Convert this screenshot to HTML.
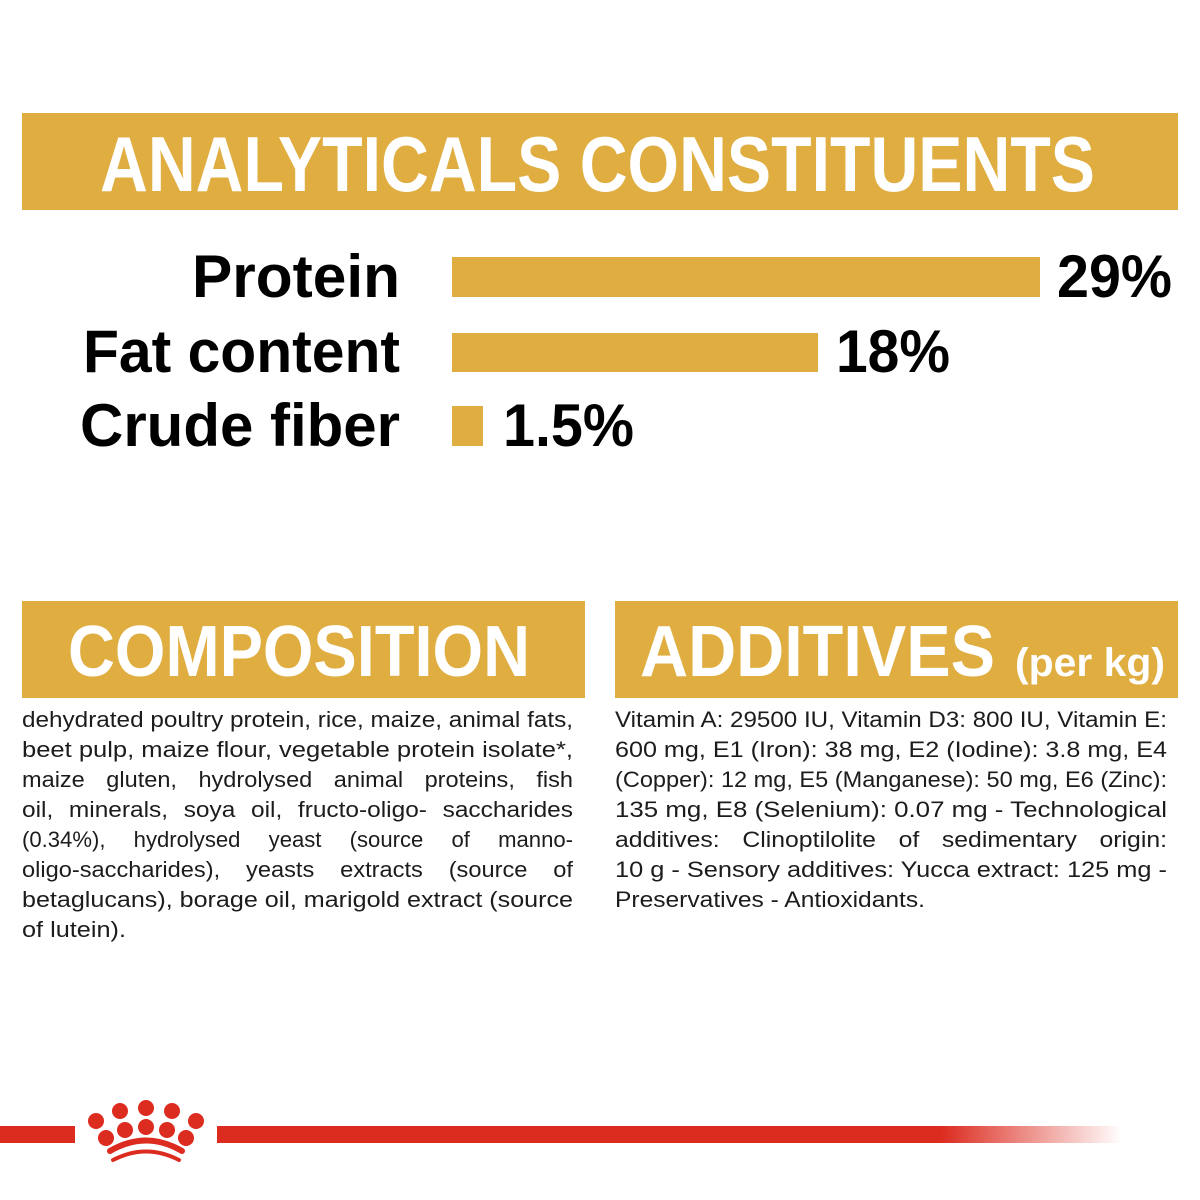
<!DOCTYPE html>
<html><head><meta charset="utf-8"><style>
html,body{margin:0;padding:0;background:#fff;}
svg{display:block;}
.b{font-family:"Liberation Sans",sans-serif;font-weight:bold;}
.t{font-family:"Liberation Sans",sans-serif;font-size:22px;fill:#1c1c1c;}
</style></head><body>
<svg width="1200" height="1200" viewBox="0 0 1200 1200" xmlns="http://www.w3.org/2000/svg">
<defs>
<linearGradient id="g" x1="0" x2="1" y1="0" y2="0">
<stop offset="0" stop-color="#dc2b1f"/><stop offset="0.8" stop-color="#dc2b1f"/><stop offset="1" stop-color="#dc2b1f" stop-opacity="0"/>
</linearGradient>
</defs>
<rect x="22" y="113" width="1156" height="97" fill="#e0ad41"/>
<text class="b" x="100" y="191" font-size="78" fill="#fff" textLength="995" lengthAdjust="spacingAndGlyphs">ANALYTICALS CONSTITUENTS</text>

<g class="b" font-size="60" fill="#000">
<text x="400" y="297" text-anchor="end" textLength="208" lengthAdjust="spacingAndGlyphs">Protein</text>
<text x="400" y="372" text-anchor="end" textLength="317" lengthAdjust="spacingAndGlyphs">Fat content</text>
<text x="400" y="446" text-anchor="end" textLength="320" lengthAdjust="spacingAndGlyphs">Crude fiber</text>
<text x="1057" y="297" textLength="115" lengthAdjust="spacingAndGlyphs">29%</text>
<text x="836" y="372" textLength="114" lengthAdjust="spacingAndGlyphs">18%</text>
<text x="503" y="446" textLength="131" lengthAdjust="spacingAndGlyphs">1.5%</text>
</g>
<rect x="452" y="257" width="588" height="40" fill="#e0ad41"/>
<rect x="452" y="333" width="366" height="39" fill="#e0ad41"/>
<rect x="452" y="406" width="31" height="40" fill="#e0ad41"/>

<rect x="22" y="601" width="563" height="97" fill="#e0ad41"/>
<text class="b" x="68" y="676" font-size="72" fill="#fff" textLength="462" lengthAdjust="spacingAndGlyphs">COMPOSITION</text>
<rect x="615" y="601" width="563" height="97" fill="#e0ad41"/>
<text class="b" x="640" y="676" font-size="72" fill="#fff" textLength="355" lengthAdjust="spacingAndGlyphs">ADDITIVES</text>
<text class="b" x="1015" y="676" font-size="40" fill="#fff" textLength="150" lengthAdjust="spacingAndGlyphs">(per kg)</text>

<g class="t">
<text x="22" y="727" textLength="551" lengthAdjust="spacingAndGlyphs">dehydrated poultry protein, rice, maize, animal fats,</text>
<text x="22" y="757" textLength="551" lengthAdjust="spacingAndGlyphs">beet pulp, maize flour, vegetable protein isolate*,</text>
<text x="22" y="787" textLength="551" lengthAdjust="spacingAndGlyphs" word-spacing="14">maize gluten, hydrolysed animal proteins, fish</text>
<text x="22" y="817" textLength="551" lengthAdjust="spacingAndGlyphs" word-spacing="8">oil, minerals, soya oil, fructo-oligo- saccharides</text>
<text x="22" y="847" textLength="551" lengthAdjust="spacingAndGlyphs" word-spacing="22">(0.34%), hydrolysed yeast (source of manno-</text>
<text x="22" y="877" textLength="551" lengthAdjust="spacingAndGlyphs" word-spacing="18">oligo-saccharides), yeasts extracts (source of</text>
<text x="22" y="907" textLength="551" lengthAdjust="spacingAndGlyphs">betaglucans), borage oil, marigold extract (source</text>
<text x="22" y="937" textLength="104" lengthAdjust="spacingAndGlyphs">of lutein).</text>

<text x="615" y="727" textLength="552" lengthAdjust="spacingAndGlyphs">Vitamin A: 29500 IU, Vitamin D3: 800 IU, Vitamin E:</text>
<text x="615" y="757" textLength="552" lengthAdjust="spacingAndGlyphs">600 mg, E1 (Iron): 38 mg, E2 (Iodine): 3.8 mg, E4</text>
<text x="615" y="787" textLength="552" lengthAdjust="spacingAndGlyphs">(Copper): 12 mg, E5 (Manganese): 50 mg, E6 (Zinc):</text>
<text x="615" y="817" textLength="552" lengthAdjust="spacingAndGlyphs">135 mg, E8 (Selenium): 0.07 mg - Technological</text>
<text x="615" y="847" textLength="552" lengthAdjust="spacingAndGlyphs" word-spacing="14">additives: Clinoptilolite of sedimentary origin:</text>
<text x="615" y="877" textLength="552" lengthAdjust="spacingAndGlyphs">10 g - Sensory additives: Yucca extract: 125 mg -</text>
<text x="615" y="907" textLength="310" lengthAdjust="spacingAndGlyphs">Preservatives - Antioxidants.</text>
</g>

<rect x="0" y="1126" width="75" height="17" fill="#dc2b1f"/>
<rect x="217" y="1126" width="905" height="17" fill="url(#g)"/>
<g fill="#dc2b1f">
<circle cx="96" cy="1121" r="8"/>
<circle cx="120" cy="1111" r="8"/>
<circle cx="146" cy="1108" r="8"/>
<circle cx="172" cy="1111" r="8"/>
<circle cx="196" cy="1121" r="8"/>
<circle cx="106" cy="1138" r="8"/>
<circle cx="125" cy="1130" r="8"/>
<circle cx="146" cy="1127" r="8"/>
<circle cx="167" cy="1130" r="8"/>
<circle cx="186" cy="1138" r="8"/>
</g>
<g fill="none" stroke="#dc2b1f" stroke-linecap="round">
<path d="M110 1151 Q146 1130 182 1151" stroke-width="6"/>
<path d="M113 1160 Q146 1143 179 1160" stroke-width="4"/>
</g>
</svg>
</body></html>
